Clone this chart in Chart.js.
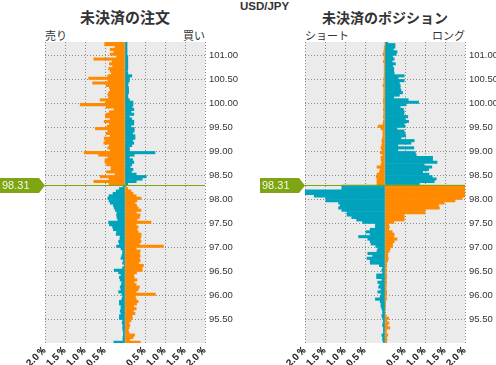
<!DOCTYPE html>
<html lang="ja">
<head>
<meta charset="UTF-8">
<title>USD/JPY</title>
<script src="https://cdn.jsdelivr.net/npm/chart.js"></script>
<style>
    body { margin: 0; width: 496px; height: 365px; position: relative; overflow: hidden; background: #fff;
           font-family: "Liberation Sans", Arial, sans-serif; }
    .lbl { position: absolute; color: #333; white-space: nowrap; }
    .jp { font-family: "Noto Sans CJK JP", sans-serif; }
    canvas { position: absolute; top: 0; }
</style>
</head>
<body>
<div class="lbl" style="left:240px;top:0px;font-weight:bold;font-size:11.5px;line-height:12px;">USD/JPY</div>
<div class="lbl jp" style="left:45px;width:160px;top:9px;text-align:center;font-weight:bold;font-size:15px;line-height:16px;">未決済の注文</div>
<div class="lbl jp" style="left:305px;width:160px;top:9px;text-align:center;font-weight:bold;font-size:14px;line-height:16px;">未決済のポジション</div>
<div class="lbl jp" style="left:45px;top:29px;font-size:11px;line-height:13px;">売り</div>
<div class="lbl jp" style="left:183px;width:22px;top:29px;text-align:right;font-size:11px;line-height:13px;">買い</div>
<div class="lbl jp" style="left:305px;top:29px;font-size:11px;line-height:13px;">ショート</div>
<div class="lbl jp" style="left:415px;width:50px;top:29px;text-align:right;font-size:11px;line-height:13px;">ロング</div>

<canvas id="orders" width="250" height="365" style="left:0"></canvas>
<canvas id="positions" width="250" height="365" style="left:250px"></canvas>

<script>
    // price buckets (lower edge), top to bottom
    var prices = [
        101.25, 101.20, 101.15, 101.10, 101.05, 101.00, 100.95, 100.90, 100.85, 100.80,
        100.75, 100.70, 100.65, 100.60, 100.55, 100.50, 100.45, 100.40, 100.35, 100.30,
        100.25, 100.20, 100.15, 100.10, 100.05, 100.00, 99.95, 99.90, 99.85, 99.80,
        99.75, 99.70, 99.65, 99.60, 99.55, 99.50, 99.45, 99.40, 99.35, 99.30,
        99.25, 99.20, 99.15, 99.10, 99.05, 99.00, 98.95, 98.90, 98.85, 98.80,
        98.75, 98.70, 98.65, 98.60, 98.55, 98.50, 98.45, 98.40, 98.35, 98.30,
        98.25, 98.20, 98.15, 98.10, 98.05, 98.00, 97.95, 97.90, 97.85, 97.80,
        97.75, 97.70, 97.65, 97.60, 97.55, 97.50, 97.45, 97.40, 97.35, 97.30,
        97.25, 97.20, 97.15, 97.10, 97.05, 97.00, 96.95, 96.90, 96.85, 96.80,
        96.75, 96.70, 96.65, 96.60, 96.55, 96.50, 96.45, 96.40, 96.35, 96.30,
        96.25, 96.20, 96.15, 96.10, 96.05, 96.00, 95.95, 95.90, 95.85, 95.80,
        95.75, 95.70, 95.65, 95.60, 95.55, 95.50, 95.45, 95.40, 95.35, 95.30,
        95.25, 95.20, 95.15, 95.10, 95.05, 95.00
    ];

    // open orders, % (sell = left side, buy = right side)
    var orderSell = [
        0.50, 0.51, 0.25, 0.37, 0.28, 0.37, 0.21, 0.78, 0.32, 0.39,
        0.31, 0.41, 0.37, 0.34, 0.43, 0.91, 0.43, 0.81, 0.47, 0.39,
        0.37, 0.41, 0.43, 0.41, 0.62, 0.47, 1.12, 0.47, 0.27, 0.39,
        0.47, 0.49, 0.37, 0.52, 0.39, 0.45, 0.74, 0.43, 0.47, 0.37,
        0.52, 0.50, 0.53, 0.39, 0.43, 0.37, 1.02, 0.66, 0.43, 0.50,
        0.50, 0.46, 0.35, 0.35, 0.46, 0.25, 0.62, 0.40, 0.78, 0.40,
        0.05, 0.14, 0.22, 0.30, 0.40, 0.43, 0.40, 0.37, 0.29, 0.27,
        0.24, 0.20, 0.21, 0.20, 0.18, 0.41, 0.39, 0.31, 0.29, 0.21,
        0.22, 0.12, 0.13, 0.16, 0.14, 0.21, 0.10, 0.06, 0.06, 0.08,
        0.10, 0.04, 0.06, 0.02, 0.06, 0.27, 0.16, 0.10, 0.14, 0.12,
        0.08, 0.09, 0.12, 0.10, 0.16, 0.08, 0.06, 0.08, 0.14, 0.14,
        0.10, 0.10, 0.12, 0.10, 0.14, 0.14, 0.06, 0.07, 0.05, 0.06,
        0.05, 0.04, 0.04, 0.05, 0.05, 0.28
    ];
    var orderBuy = [
        0.05, 0.05, 0.05, 0.05, 0.05, 0.05, 0.07, 0.07, 0.07, 0.07,
        0.07, 0.07, 0.06, 0.07, 0.17, 0.11, 0.11, 0.08, 0.07, 0.09,
        0.09, 0.09, 0.07, 0.07, 0.11, 0.20, 0.20, 0.18, 0.22, 0.15,
        0.22, 0.11, 0.17, 0.22, 0.22, 0.15, 0.23, 0.23, 0.19, 0.25,
        0.25, 0.19, 0.22, 0.17, 0.11, 0.11, 0.75, 0.23, 0.11, 0.19,
        0.22, 0.17, 0.13, 0.20, 0.16, 0.28, 0.53, 0.43, 0.28, 0.07,
        0.03, 0.07, 0.15, 0.20, 0.28, 0.40, 0.30, 0.25, 0.29, 0.33,
        0.40, 0.28, 0.38, 0.36, 0.30, 0.65, 0.28, 0.33, 0.30, 0.33,
        0.40, 0.40, 0.38, 0.40, 0.36, 0.96, 0.28, 0.38, 0.36, 0.38,
        0.36, 0.38, 0.34, 0.46, 0.43, 0.43, 0.29, 0.22, 0.23, 0.30,
        0.23, 0.28, 0.36, 0.33, 0.28, 0.76, 0.26, 0.28, 0.33, 0.29,
        0.22, 0.28, 0.21, 0.25, 0.18, 0.18, 0.15, 0.10, 0.12, 0.10,
        0.08, 0.10, 0.24, 0.20, 0.12, 0.38
    ];

    // open positions, % (short = left side, long = right side)
    var posShort = [
        0.00, 0.00, 0.02, 0.02, 0.03, 0.05, 0.02, 0.02, 0.04, 0.02,
        0.02, 0.02, 0.02, 0.02, 0.02, 0.03, 0.03, 0.03, 0.05, 0.03,
        0.03, 0.03, 0.03, 0.03, 0.04, 0.04, 0.03, 0.03, 0.04, 0.03,
        0.03, 0.04, 0.03, 0.04, 0.05, 0.17, 0.10, 0.05, 0.05, 0.05,
        0.06, 0.08, 0.07, 0.08, 0.10, 0.08, 0.12, 0.06, 0.10, 0.10,
        0.08, 0.10, 0.20, 0.12, 0.14, 0.20, 0.22, 0.20, 0.20, 0.20,
        1.08, 1.08, 2.10, 2.10, 1.77, 1.48, 1.48, 1.16, 1.12, 1.16,
        1.08, 0.95, 0.95, 0.83, 0.71, 0.56, 0.24, 0.24, 0.37, 0.48,
        0.37, 0.66, 0.43, 0.37, 0.35, 0.23, 0.18, 0.20, 0.43, 0.31,
        0.45, 0.37, 0.37, 0.14, 0.06, 0.08, 0.06, 0.21, 0.21, 0.08,
        0.18, 0.13, 0.16, 0.10, 0.18, 0.10, 0.12, 0.24, 0.12, 0.10,
        0.10, 0.08, 0.06, 0.06, 0.08, 0.06, 0.04, 0.05, 0.06, 0.04,
        0.04, 0.04, 0.08, 0.06, 0.06, 0.04
    ];
    var posLong = [
        0.07, 0.25, 0.25, 0.21, 0.30, 0.28, 0.19, 0.23, 0.18, 0.26,
        0.19, 0.22, 0.22, 0.23, 0.48, 0.33, 0.48, 0.36, 0.38, 0.38,
        0.40, 0.44, 0.36, 0.22, 0.58, 0.84, 0.53, 0.38, 0.46, 0.48,
        0.47, 0.57, 0.51, 0.59, 0.48, 0.50, 0.30, 0.48, 0.50, 0.52,
        0.40, 0.73, 0.65, 0.32, 0.72, 0.32, 0.76, 0.78, 1.19, 1.19,
        1.30, 0.98, 1.17, 1.09, 0.94, 1.10, 1.18, 1.28, 1.23, 0.86,
        2.10, 2.10, 2.10, 2.10, 2.10, 1.93, 1.75, 1.48, 1.34, 1.36,
        1.00, 1.00, 0.48, 0.48, 0.48, 0.22, 0.09, 0.11, 0.09, 0.18,
        0.23, 0.22, 0.30, 0.23, 0.19, 0.19, 0.13, 0.11, 0.07, 0.07,
        0.08, 0.07, 0.04, 0.04, 0.03, 0.04, 0.03, 0.04, 0.04, 0.03,
        0.04, 0.03, 0.03, 0.03, 0.04, 0.04, 0.03, 0.04, 0.01, 0.01,
        0.01, 0.01, 0.00, 0.00, 0.03, 0.09, 0.05, 0.10, 0.06, 0.12,
        0.04, 0.03, 0.07, 0.04, 0.05, 0.04
    ];

    var currentPrice = 98.31;
    var currentLabel = "98.31";
    var priceTicks = [95.5, 96, 96.5, 97, 97.5, 98, 98.5, 99, 99.5, 100, 100.5, 101];
    var pctTicks = [-2, -1.5, -1, -0.5, 0, 0.5, 1, 1.5, 2];
    var pctLabels = ["2.0％", "1.5％", "1.0％", "0.5％", "", "0.5％", "1.0％", "1.5％", "2.0％"];

    var ORANGE = "#ff8a00";
    var TEAL = "#00a3bb";
    var GREEN = "#7fa513";
    var bucket = 0.05;

    var areaBg = {
        id: "areaBg",
        beforeDraw: function(chart) {
            var a = chart.chartArea, ctx = chart.ctx;
            ctx.save();
            ctx.fillStyle = "#ebebeb";
            ctx.fillRect(a.left, a.top, a.right - a.left, a.bottom - a.top);
            ctx.restore();
        }
    };

    var priceMark = {
        id: "priceMark",
        afterDatasetsDraw: function(chart) {
            var a = chart.chartArea, ctx = chart.ctx;
            var y = Math.round(chart.scales.y.getPixelForValue(currentPrice)) + 0.5;
            ctx.save();
            ctx.strokeStyle = GREEN;
            ctx.lineWidth = 1;
            ctx.beginPath();
            ctx.moveTo(a.left, y);
            ctx.lineTo(a.right, y);
            ctx.stroke();
            var x0 = a.left - 45;
            ctx.fillStyle = GREEN;
            ctx.beginPath();
            ctx.moveTo(x0, y - 7.5);
            ctx.lineTo(a.left - 6, y - 7.5);
            ctx.lineTo(a.left, y);
            ctx.lineTo(a.left - 6, y + 7.5);
            ctx.lineTo(x0, y + 7.5);
            ctx.closePath();
            ctx.fill();
            ctx.fillStyle = "#f4f8ec";
            ctx.font = "11px 'Liberation Sans', Arial, sans-serif";
            ctx.textBaseline = "middle";
            ctx.fillText(currentLabel, x0 + 2, y + 0.5);
            ctx.restore();
        }
    };

    function makeChart(id, leftVals, rightVals, padLeft, axisWidth) {
        var leftData = [], rightData = [], leftColors = [], rightColors = [];
        for (var i = 0; i < prices.length; i++) {
            var mid = prices[i] + bucket / 2;
            var above = prices[i] + bucket > currentPrice;
            leftData.push({ x: -leftVals[i], y: mid });
            rightData.push({ x: rightVals[i], y: mid });
            leftColors.push(above ? ORANGE : TEAL);
            rightColors.push(above ? TEAL : ORANGE);
        }
        return new Chart(document.getElementById(id), {
            type: "bar",
            data: {
                datasets: [
                    { data: leftData, backgroundColor: leftColors, grouped: false, barPercentage: 1, categoryPercentage: 1, borderWidth: 0 },
                    { data: rightData, backgroundColor: rightColors, grouped: false, barPercentage: 1, categoryPercentage: 1, borderWidth: 0 }
                ]
            },
            options: {
                indexAxis: "y",
                responsive: false,
                animation: false,
                layout: { padding: { left: padLeft, top: 42, right: 0, bottom: 0 } },
                plugins: { legend: { display: false }, tooltip: { enabled: false } },
                scales: {
                    x: {
                        type: "linear",
                        min: -2,
                        max: 2,
                        offset: false,
                        afterBuildTicks: function(s) { s.ticks = pctTicks.map(function(v) { return { value: v }; }); },
                        afterFit: function(s) { s.height = 22; },
                        ticks: {
                            autoSkip: false,
                            minRotation: 45,
                            maxRotation: 45,
                            padding: 1,
                            color: "#222",
                            font: { family: "'Liberation Sans', Arial, sans-serif", size: 10, weight: "bold" },
                            callback: function(v, i) { return pctLabels[i]; }
                        },
                        grid: { color: "#8c8c8c", drawTicks: false, lineWidth: 1, offset: false },
                        border: { display: false, dash: [1, 2] }
                    },
                    y: {
                        type: "linear",
                        position: "right",
                        min: 95.01,
                        max: 101.28,
                        offset: false,
                        afterBuildTicks: function(s) { s.ticks = priceTicks.map(function(v) { return { value: v }; }); },
                        afterFit: function(s) { s.width = axisWidth; },
                        ticks: {
                            padding: 4,
                            color: "#333",
                            font: { family: "'Liberation Sans', Arial, sans-serif", size: 9.5 },
                            callback: function(v) { return Number(v).toFixed(2); }
                        },
                        grid: { color: "#8c8c8c", drawTicks: false, lineWidth: 1, offset: false },
                        border: { display: false, dash: [1, 2] }
                    }
                }
            },
            plugins: [areaBg, priceMark]
        });
    }

    makeChart("orders", orderSell, orderBuy, 45, 45);
    makeChart("positions", posShort, posLong, 55, 35);
</script>
</body>
</html>
